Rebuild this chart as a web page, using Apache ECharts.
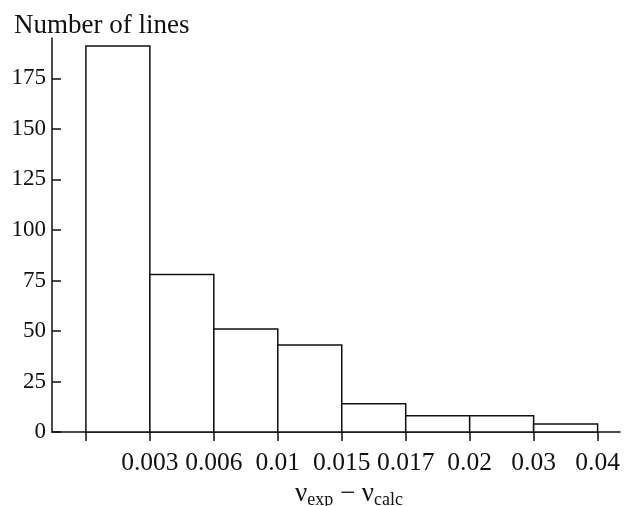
<!DOCTYPE html>
<html>
<head>
<meta charset="utf-8">
<script src="https://cdn.jsdelivr.net/npm/echarts@6/dist/echarts.min.js"></script>
<style>html,body{margin:0;padding:0;background:#fff}#c{width:624px;height:506px}</style>
</head>
<body>
<div id="c"></div>
<script>
// bin edge labels (tick labels at bin boundaries)
var edgeLabels = ['', '0.003', '0.006', '0.01', '0.015', '0.017', '0.02', '0.03', '0.04'];
// number of lines in each bin
var counts = [191, 78, 51, 43, 14, 8, 8, 4];
var yTicks = [0, 25, 50, 75, 100, 125, 150, 175];

var edgeIdx = edgeLabels.map(function (_, i) { return i; });
var data = counts.map(function (v, i) { return [i, i + 1, v]; });
var FONT = '"Liberation Serif", "DejaVu Serif", serif';
var chart = echarts.init(document.getElementById('c'));
chart.setOption({
  animation: false,
  title: {
    text: 'Number of lines',
    left: 9, top: 7,
    textStyle: { fontFamily: FONT, fontWeight: 'normal', fontSize: 27, color: '#111' }
  },
  grid: { left: 52, right: 4, top: 38, bottom: 74, containLabel: false, outerBoundsMode: 'none' },
  xAxis: {
    type: 'value', min: -0.53, max: 8.35,
    axisLine: { onZero: false, lineStyle: { color: '#111', width: 1.5 } },
    axisTick: { length: 9, customValues: edgeIdx, lineStyle: { color: '#111', width: 1.5 } },
    axisLabel: {
      customValues: edgeIdx.slice(1),
      margin: 18,
      fontFamily: FONT, fontSize: 25.5, color: '#111',
      formatter: function (v) { return edgeLabels[Math.round(v)]; }
    },
    splitLine: { show: false },
    name: '{v|ν}{s|exp}{v| − ν}{s|calc}',
    nameLocation: 'middle',
    nameGap: 41,
    nameTextStyle: {
      padding: [0, 0, 0, 26],
      rich: {
        v: { fontFamily: FONT, fontSize: 27, color: '#111', lineHeight: 28, verticalAlign: 'top' },
        s: { fontFamily: FONT, fontSize: 18, color: '#111', lineHeight: 28, verticalAlign: 'bottom', padding: [10, 0, 0, 0] }
      }
    }
  },
  yAxis: {
    type: 'value', min: 0, max: 195,
    axisLine: { show: true, onZero: false, lineStyle: { color: '#111', width: 1.5 } },
    axisTick: { show: true, inside: true, length: 9, customValues: yTicks, lineStyle: { color: '#111', width: 1.5 } },
    axisLabel: { customValues: yTicks, margin: 6, fontFamily: FONT, fontSize: 23, color: '#111' },
    splitLine: { show: false }
  },
  series: [{
    type: 'custom',
    data: data,
    encode: { x: [0, 1], y: 2 },
    renderItem: function (params, api) {
      var p0 = api.coord([api.value(0), 0]);
      var p1 = api.coord([api.value(1), api.value(2)]);
      return {
        type: 'rect',
        shape: { x: p0[0], y: p1[1], width: p1[0] - p0[0], height: p0[1] - p1[1] },
        style: { fill: '#fff', stroke: '#111', lineWidth: 1.5 }
      };
    }
  }]
});
</script>
</body>
</html>
